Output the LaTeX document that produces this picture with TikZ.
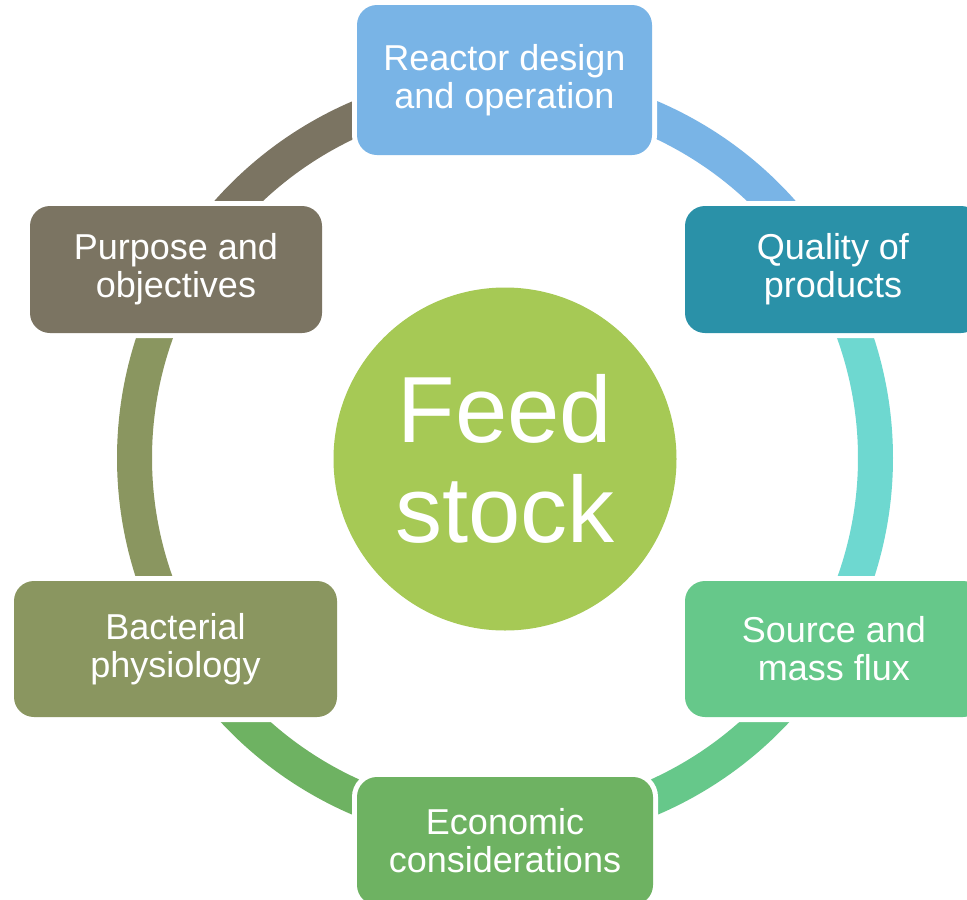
\documentclass[tikz,border=0pt]{standalone}
\usepackage{fontspec}
\setmainfont{Liberation Sans}
\definecolor{cReactor}{HTML}{79B4E6}
\definecolor{cQuality}{HTML}{2A91A8}
\definecolor{cTurq}{HTML}{6ED8D0}
\definecolor{cSource}{HTML}{66C88A}
\definecolor{cEcon}{HTML}{6EB262}
\definecolor{cBact}{HTML}{8A9660}
\definecolor{cPurp}{HTML}{7B7462}
\definecolor{cFeed}{HTML}{A6C955}
\tikzset{
  topic/.style={rectangle, rounded corners=20, inner sep=0pt, text=white,
    align=center, font=\fontsize{36}{38}\selectfont,
    preaction={draw=white, line width=10}},
  hub/.style={circle, fill=cFeed, inner sep=0pt, minimum size=343,
    text=white, align=center, font=\fontsize{94}{100}\selectfont},
  ringseg/.style={line width=35, line cap=butt}
}
\begin{document}
\begin{tikzpicture}[x=1pt,y=-1pt]
  \clip (0,0) rectangle (967,900);
  \fill[white] (0,0) rectangle (967,900);
  \coordinate (ctr) at (505,458);
  % ring segments, one per sector (angles run clockwise because y points down)
  \draw[ringseg, cPurp]   (ctr) ++(-150:370.5) arc[start angle=-150, end angle=-90,  radius=370.5];
  \draw[ringseg, cReactor](ctr) ++(-90:370.5)  arc[start angle=-90,  end angle=-30,  radius=370.5];
  \draw[ringseg, cTurq]   (ctr) ++(-30:370.5)  arc[start angle=-30,  end angle=30,   radius=370.5];
  \draw[ringseg, cSource] (ctr) ++(30:370.5)   arc[start angle=30,   end angle=90,   radius=370.5];
  \draw[ringseg, cEcon]   (ctr) ++(90:370.5)   arc[start angle=90,   end angle=150,  radius=370.5];
  \draw[ringseg, cBact]   (ctr) ++(150:370.5)  arc[start angle=150,  end angle=210,  radius=370.5];
  % central hub
  \node[hub] (feed) at (505,459) {Feed\\stock};
  % topic boxes around the ring
  \node[topic, fill=cReactor, minimum width=295, minimum height=150] (reactor) at (504.5,80) {Reactor design\\and operation};
  \node[topic, fill=cQuality, minimum width=296, minimum height=127] (quality) at (833,269.5) {Quality of\\products};
  \node[topic, fill=cSource, minimum width=298, minimum height=136] (source) at (834,649) {Source and\\mass flux};
  \node[topic, fill=cEcon, minimum width=296, minimum height=128] (econ) at (505,841) {Economic\\considerations};
  \node[topic, fill=cBact, minimum width=323, minimum height=136] (bact) at (175.5,649) {Bacterial\\physiology};
  \node[topic, fill=cPurp, minimum width=292, minimum height=127] (purpose) at (176,269.5) {Purpose and\\objectives};
\end{tikzpicture}
\end{document}
